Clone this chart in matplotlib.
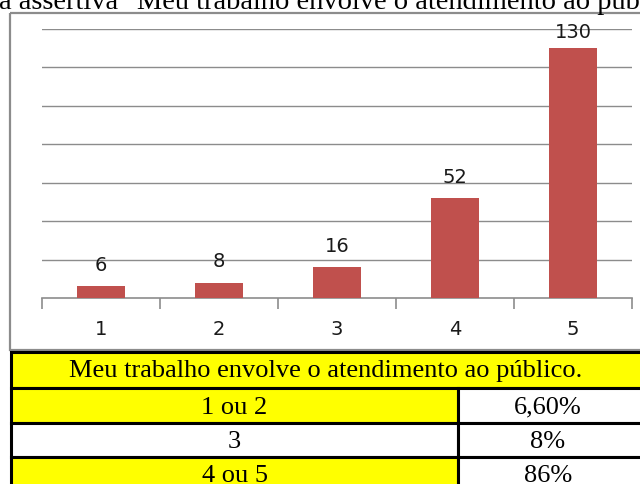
import matplotlib.pyplot as plt
from matplotlib.patches import Rectangle

# chart data
categories = ["1", "2", "3", "4", "5"]
counts = [6, 8, 16, 52, 130]

# table data
table_header = "Meu trabalho envolve o atendimento ao público."
table_labels = ["1 ou 2", "3", "4 ou 5"]
table_values = ["6,60%", "8%", "86%"]
title_text = 'a assertiva "Meu trabalho envolve o atendimento ao público"'

W, H = 640, 484
fig = plt.figure(figsize=(W / 100, H / 100), dpi=100)

# overlay axes in pixel coordinates for frame, table, title
ov = fig.add_axes([0, 0, 1, 1])
ov.set_xlim(0, W)
ov.set_ylim(H, 0)
ov.axis("off")

serif = "Liberation Serif"
ov.text(-1, 9, title_text, fontsize=20.5, family=serif, va="baseline", ha="left")

# chart frame
ov.add_patch(Rectangle((10, 13), 660, 337, fill=False, edgecolor="#8c8c8c", lw=1.6, zorder=1))

# bar chart
ymax = 140
plot_h = 298 - 29
ax = fig.add_axes([42 / W, 1 - 298 / H, (632 - 42) / W, plot_h / H])
x = range(len(categories))
bars = ax.bar(x, counts, width=0.40, color="#C0504D", zorder=3)
ax.set_xlim(-0.5, len(categories) - 0.5)
ax.set_ylim(0, ymax)
ax.set_yticks(range(20, ymax + 1, 20))
ax.yaxis.grid(True, color="#8c8c8c", lw=1)
ax.set_axisbelow(True)
ax.tick_params(axis="y", left=False, labelleft=False)
for s in ["top", "right", "left"]:
    ax.spines[s].set_visible(False)
ax.spines["bottom"].set_color("#8c8c8c")
ax.spines["bottom"].set_linewidth(1.2)
ax.set_xticks(x)
ax.set_xticklabels(categories, fontsize=14, color="#1a1a1a")
ax.tick_params(axis="x", length=0, pad=16)
ax.set_xticks([i - 0.5 for i in range(len(categories) + 1)], minor=True)
ax.tick_params(axis="x", which="minor", length=8, color="#8c8c8c", width=1.2)
for b, v in zip(bars, counts):
    # room above the bar (px); labels near the top are pulled in like Excel does
    room = (ymax - v) / ymax * plot_h
    off = min(11, (room - 9) * 0.72)
    ax.annotate(str(v), (b.get_x() + b.get_width() / 2, v), xytext=(0, off),
                textcoords="offset points", ha="center", va="baseline",
                fontsize=14, color="#1a1a1a")
ax.patch.set_alpha(0)

# table
left, split, right = 11, 458, 660
rows_y = [352, 388, 423, 457, 492]
fill = "#FFFF00"
ov.add_patch(Rectangle((left, rows_y[0]), right - left, rows_y[1] - rows_y[0],
                       facecolor=fill, edgecolor="black", lw=2.2, zorder=2))
ov.text((left + 640) / 2, (rows_y[0] + rows_y[1]) / 2 + 1, table_header,
        fontsize=19, family=serif, ha="center", va="center", zorder=4)
for i, (lab, val) in enumerate(zip(table_labels, table_values)):
    y0, y1 = rows_y[i + 1], rows_y[i + 2]
    fc = fill if i != 1 else "white"
    ov.add_patch(Rectangle((left, y0), split - left, y1 - y0,
                           facecolor=fc, edgecolor="black", lw=2.2, zorder=2))
    ov.add_patch(Rectangle((split, y0), right - split, y1 - y0,
                           facecolor="white", edgecolor="black", lw=2.2, zorder=2))
    ov.text((left + split) / 2, (y0 + y1) / 2 + 2, lab, fontsize=19,
            family=serif, ha="center", va="center", zorder=4)
    ov.text(548, (y0 + y1) / 2 + 2, val, fontsize=19,
            family=serif, ha="center", va="center", zorder=4)

fig.savefig("out.png", dpi=100)
